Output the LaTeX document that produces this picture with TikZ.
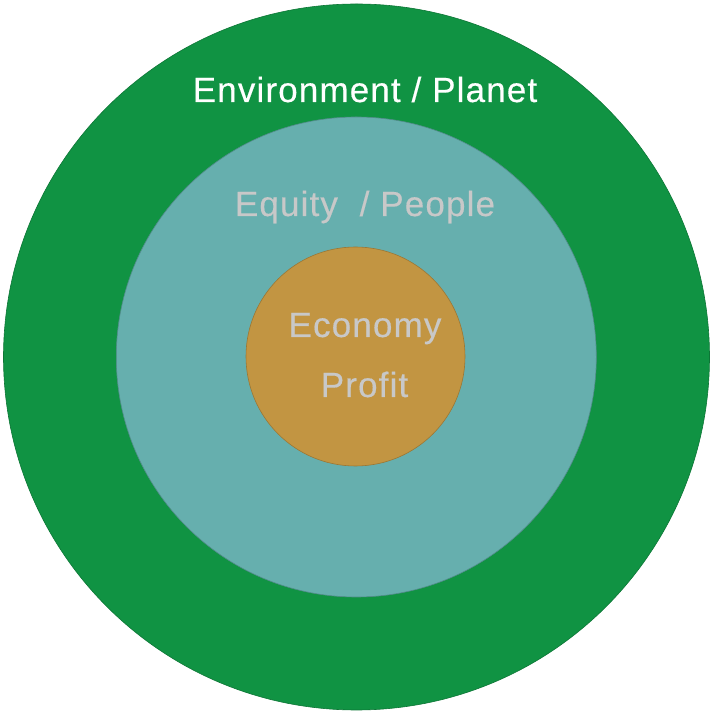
\documentclass[tikz,border=0pt]{standalone}
\usepackage{fontspec}
\setmainfont{Liberation Sans}[LetterSpace=3.3,FakeBold=0.4]
\definecolor{envgreen}{HTML}{109343}
\definecolor{eqteal}{HTML}{66AFAE}
\definecolor{ecoorange}{HTML}{C29542}
\definecolor{lblgray}{HTML}{C8C8C8}
\begin{document}
\begin{tikzpicture}[x=1pt,y=1pt,
  ring/.style={circle, inner sep=0pt, draw=#1!80!black, line width=0.6pt},
  lbl/.style={anchor=base, inner sep=0pt, font=\fontsize{35}{42}\selectfont}]
\useasboundingbox (0,0) rectangle (712,715);
\node[ring=envgreen, fill=envgreen, minimum size=706pt] (outer) at (356.5,358) {};
\node[ring=eqteal, fill=eqteal, minimum size=480pt] (middle) at (356.3,358) {};
\node[ring=ecoorange, fill=ecoorange, minimum size=219pt] (inner) at (355.5,358.5) {};
\node[lbl, text=white] (env) at (365,613) {Environment / Planet};
\node[lbl, text=lblgray] (eq) at (365,499) {Equity \ / People};
\node[lbl, text=lblgray] (eco) at (365,378) {Economy};
\node[lbl, text=lblgray] (pro) at (364.5,318) {Profit};
\end{tikzpicture}
\end{document}
